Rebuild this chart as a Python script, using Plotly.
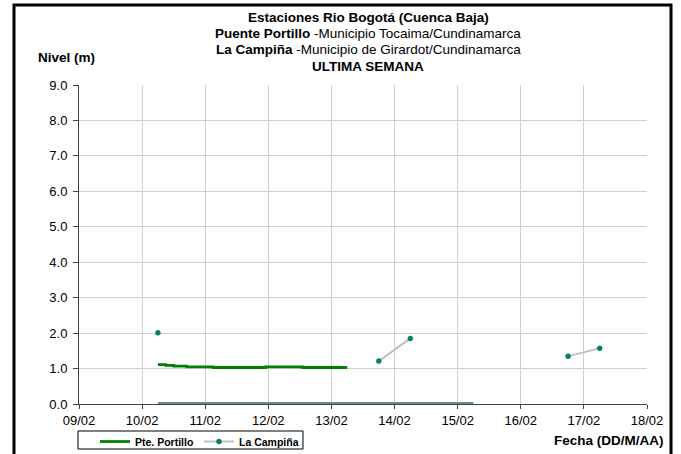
import plotly.graph_objects as go

# ---------------- data ----------------
portillo_time = ["2014-02-10 06:00", "2014-02-10 09:00", "2014-02-10 12:00", "2014-02-10 17:00",
                 "2014-02-11 03:00", "2014-02-11 23:00", "2014-02-12 13:00", "2014-02-13 06:00"]
portillo_level = [1.11, 1.09, 1.07, 1.05, 1.03, 1.05, 1.03, 1.03]

campina_time = ["2014-02-10 06:00", "2014-02-10 18:00", "2014-02-13 06:00", "2014-02-13 18:00",
                "2014-02-14 06:00", "2014-02-14 18:00", "2014-02-16 06:00", "2014-02-16 18:00",
                "2014-02-17 06:00"]
campina_level = [2.01, None, None, 1.21, 1.85, None, None, 1.35, 1.57]

zero_time = ["2014-02-10 06:00", "2014-02-15 06:00"]
zero_level = [0.0, 0.0]

title_lines = [
    "<b>Estaciones Rio Bogotá (Cuenca Baja)</b>",
    "<b>Puente Portillo</b> -Municipio Tocaima/Cundinamarca",
    "<b>La Campiña</b> -Municipio de Girardot/Cundinamarca",
    "<b>ULTIMA SEMANA</b>",
]
y_label = "<b>Nivel (m)</b>"
x_label = "<b>Fecha (DD/M/AA)</b>"

FONT = "Arial, Liberation Sans, sans-serif"

fig = go.Figure()
fig.add_trace(go.Scatter(x=zero_time, y=zero_level, mode="lines",
                         line=dict(color="#5f8f8f", width=4), showlegend=False,
                         hoverinfo="skip"))
fig.add_trace(go.Scatter(x=portillo_time, y=portillo_level, mode="lines", name="<b>Pte. Portillo</b>",
                         line=dict(color="#008000", width=2.8, shape="hv")))
fig.add_trace(go.Scatter(x=campina_time, y=campina_level, mode="lines+markers", name="<b>La Campiña</b>",
                         line=dict(color="#c0c0c0", width=2),
                         marker=dict(color="#008a3a", size=5, line=dict(color="#0a7a50", width=0.5)),
                         connectgaps=False))

# page body margin is removed by post_script, so layout coords == page coords
W, H = 681, 454
L, R, T, B = 79, 647, 85, 404
pw, ph = R - L, B - T
def px(x): return (x - L) / pw
def py(y): return (B - y) / ph

annotations = []
for txt, yy in zip(title_lines, [18, 34, 50, 66]):
    annotations.append(dict(text=txt, x=px(368), y=py(yy), xref="paper", yref="paper",
                            showarrow=False, xanchor="center", yanchor="middle",
                            font=dict(family=FONT, size=13.5, color="#000000")))
annotations.append(dict(text=y_label, x=px(66), y=py(57), xref="paper", yref="paper",
                        showarrow=False, xanchor="center", yanchor="middle",
                        font=dict(family=FONT, size=13.5, color="#000000")))
annotations.append(dict(text=x_label, x=px(666), y=py(440), xref="paper", yref="paper",
                        showarrow=False, xanchor="right", yanchor="middle",
                        font=dict(family=FONT, size=13.5, color="#000000")))

fig.update_layout(
    width=W, height=H,
    margin=dict(l=L, r=W - R, t=T, b=H - B, pad=0, autoexpand=False),
    paper_bgcolor="white", plot_bgcolor="white",
    font=dict(family=FONT, color="#000000"),
    annotations=annotations,
    shapes=[dict(type="rect", xref="paper", yref="paper",
                 x0=px(14), x1=px(671), y0=py(5), y1=py(480),
                 line=dict(color="black", width=3), fillcolor="rgba(0,0,0,0)"),
            dict(type="rect", xref="paper", yref="paper",
                 x0=px(78), x1=px(303), y0=py(431), y1=py(449),
                 line=dict(color="black", width=1), fillcolor="rgba(0,0,0,0)")],
    legend=dict(orientation="h", x=px(95), y=py(427), xanchor="left", yanchor="top",
                borderwidth=0, bgcolor="rgba(0,0,0,0)",
                font=dict(family=FONT, size=10.5, color="#000000"),
                entrywidth=59, entrywidthmode="pixels",
                itemwidth=30, tracegroupgap=0),
    showlegend=True,
)
fig.update_xaxes(type="date", range=["2014-02-09 00:00", "2014-02-18 00:00"],
                 dtick=86400000, tick0="2014-02-09", tickformat="%d/%m",
                 showgrid=True, gridcolor="#d0d0d0", gridwidth=1,
                 showline=True, linecolor="#404040", linewidth=1,
                 ticks="outside", ticklen=4, tickcolor="#404040",
                 tickfont=dict(family=FONT, size=13, color="#000000"),
                 zeroline=False, layer="below traces", fixedrange=True)
fig.update_yaxes(range=[0, 9], dtick=1, tick0=0, tickformat=".1f",
                 showgrid=True, gridcolor="#d0d0d0", gridwidth=1,
                 showline=True, linecolor="#404040", linewidth=1,
                 ticks="outside", ticklen=5, tickcolor="#404040",
                 tickfont=dict(family=FONT, size=13, color="#000000"),
                 ticklabelstandoff=3,
                 zeroline=False, layer="below traces", fixedrange=True)

fig.write_html("out.html", config={"displayModeBar": False},
               post_script="document.body.style.margin='0px';")
